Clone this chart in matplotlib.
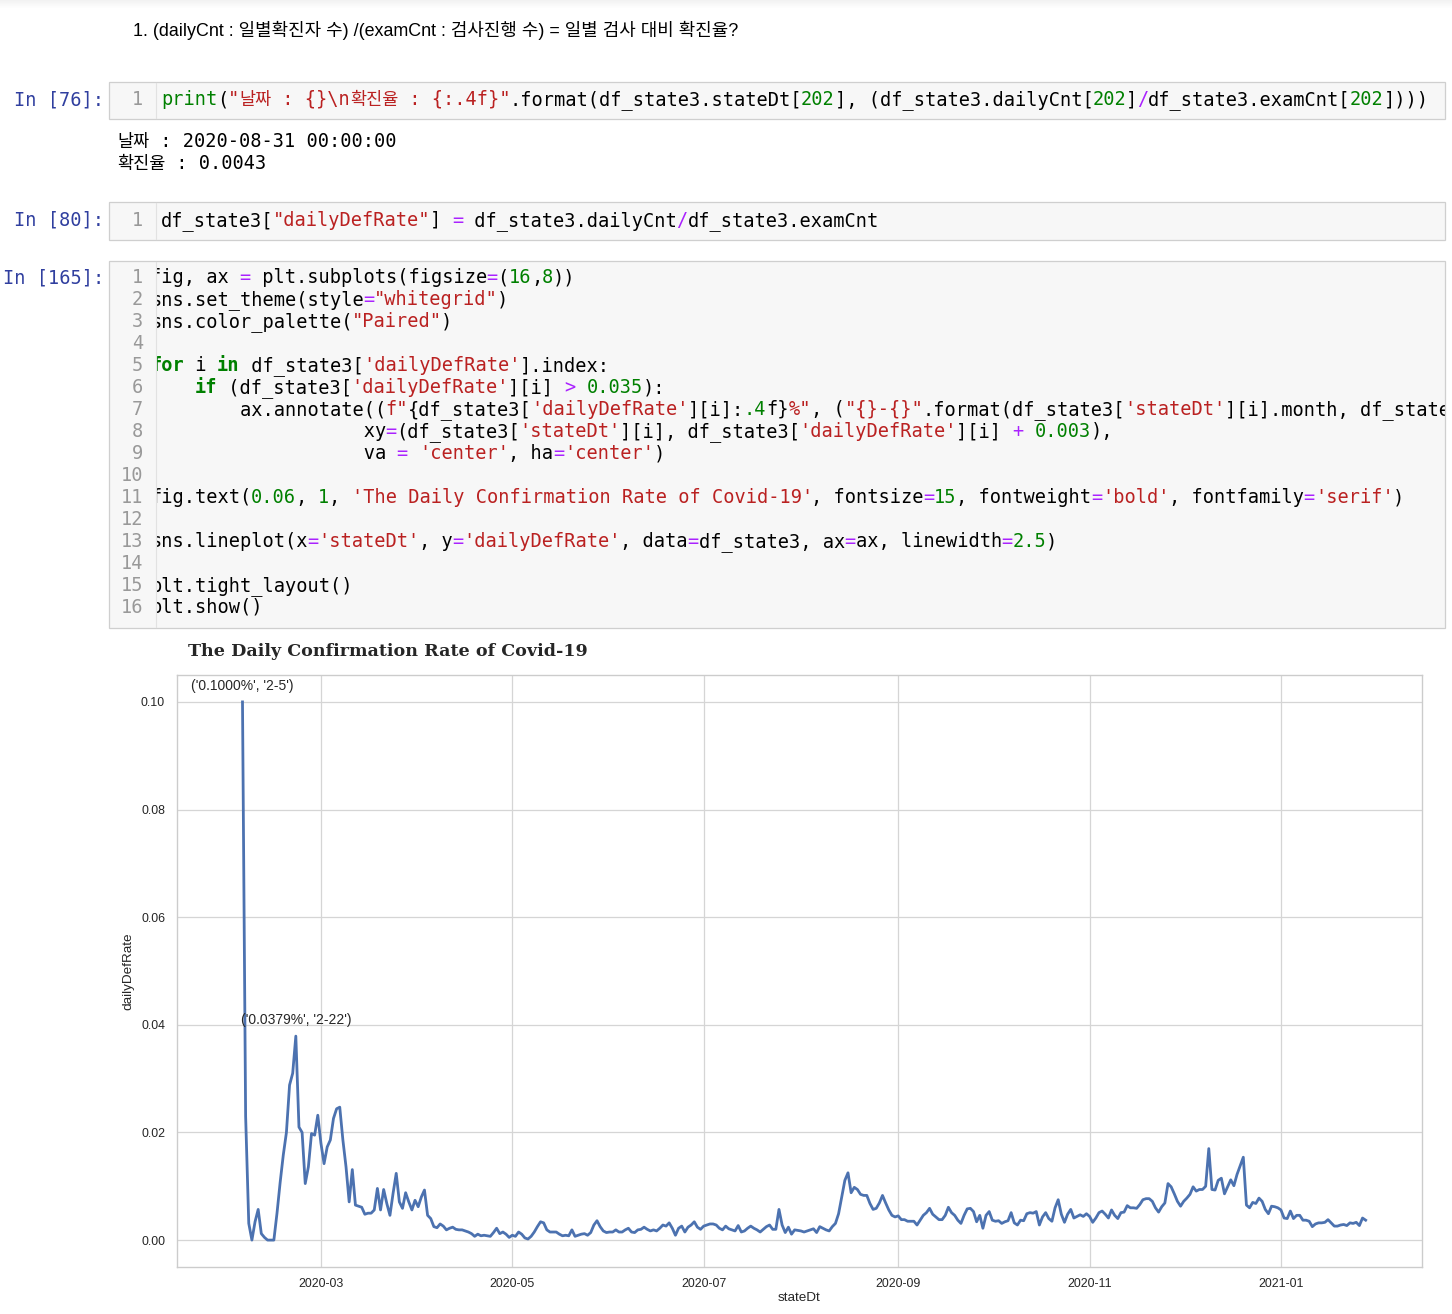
import re

import numpy as np
import pandas as pd
import matplotlib
matplotlib.use("Agg")
import matplotlib.pyplot as plt
import matplotlib.dates as mdates
from matplotlib.patches import Rectangle
from matplotlib.ticker import FormatStrFormatter

plt.rcParams["font.family"] = ["Liberation Sans", "Noto Sans CJK KR"]

# daily confirmation rate (dailyCnt / examCnt), 2020-02-05 .. 2021-01-28
feb = [0.1000, 0.0230, 0.0031, 0.0000, 0.0034, 0.0057, 0.0012, 0.0005, 0.0000, 0.0000,
       0.0000, 0.0050, 0.0107, 0.0158, 0.0200, 0.0288, 0.0310, 0.0379, 0.0210, 0.0200,
       0.0105, 0.0136, 0.0198, 0.0195, 0.0232]
mar = [0.0180, 0.0142, 0.0173, 0.0186, 0.0226, 0.0244, 0.0247, 0.0186, 0.0136, 0.0071,
       0.0131, 0.0065, 0.0063, 0.0061, 0.0048, 0.0050, 0.0050, 0.0056, 0.0096, 0.0056,
       0.0094, 0.0068, 0.0046, 0.0087, 0.0124, 0.0071, 0.0059, 0.0088, 0.0071, 0.0056,
       0.0074]
apr = [0.0062, 0.0080, 0.0093, 0.0046, 0.0040, 0.0025, 0.0023, 0.0030, 0.0026, 0.0019,
       0.0022, 0.0024, 0.0020, 0.0019, 0.0019, 0.0017, 0.0015, 0.0012, 0.0007, 0.0011,
       0.0008, 0.0009, 0.0008, 0.0007, 0.0014, 0.0022, 0.0012, 0.0015, 0.0011, 0.0005]
may = [0.0009, 0.0007, 0.0015, 0.0011, 0.0004, 0.0002, 0.0007, 0.0015, 0.0025, 0.0034,
       0.0032, 0.0019, 0.0015, 0.0015, 0.0015, 0.0011, 0.0008, 0.0009, 0.0008, 0.0019,
       0.0007, 0.0009, 0.0011, 0.0012, 0.0009, 0.0014, 0.0028, 0.0036, 0.0025, 0.0017,
       0.0014]
jun = [0.0015, 0.0015, 0.0019, 0.0015, 0.0015, 0.0019, 0.0022, 0.0015, 0.0014, 0.0019,
       0.0020, 0.0024, 0.0020, 0.0017, 0.0019, 0.0017, 0.0022, 0.0028, 0.0026, 0.0032,
       0.0022, 0.0009, 0.0022, 0.0026, 0.0015, 0.0024, 0.0028, 0.0034, 0.0024, 0.0020]
jul = [0.0026, 0.0028, 0.0030, 0.0030, 0.0028, 0.0022, 0.0019, 0.0026, 0.0021, 0.0019,
       0.0017, 0.0027, 0.0015, 0.0017, 0.0022, 0.0026, 0.0022, 0.0019, 0.0015, 0.0020,
       0.0025, 0.0028, 0.0020, 0.0020, 0.0057, 0.0028, 0.0014, 0.0024, 0.0011, 0.0019,
       0.0018]
aug = [0.0017, 0.0015, 0.0017, 0.0019, 0.0021, 0.0014, 0.0025, 0.0022, 0.0019, 0.0017,
       0.0025, 0.0031, 0.0049, 0.0080, 0.0111, 0.0125, 0.0088, 0.0098, 0.0094, 0.0085,
       0.0083, 0.0083, 0.0068, 0.0057, 0.0059, 0.0069, 0.0083, 0.0069, 0.0056, 0.0046,
       0.0043]
sep = [0.0045, 0.0038, 0.0038, 0.0035, 0.0035, 0.0035, 0.0028, 0.0037, 0.0046, 0.0051,
       0.0059, 0.0048, 0.0043, 0.0038, 0.0038, 0.0046, 0.0061, 0.0051, 0.0046, 0.0037,
       0.0031, 0.0046, 0.0058, 0.0059, 0.0053, 0.0034, 0.0046, 0.0022, 0.0046, 0.0053]
oct_ = [0.0037, 0.0035, 0.0036, 0.0031, 0.0034, 0.0036, 0.0051, 0.0032, 0.0028, 0.0037,
        0.0036, 0.0049, 0.0051, 0.0050, 0.0053, 0.0028, 0.0043, 0.0051, 0.0040, 0.0035,
        0.0060, 0.0075, 0.0048, 0.0033, 0.0048, 0.0057, 0.0041, 0.0044, 0.0047, 0.0044,
        0.0049]
nov = [0.0044, 0.0033, 0.0041, 0.0051, 0.0054, 0.0048, 0.0041, 0.0056, 0.0046, 0.0040,
       0.0051, 0.0052, 0.0064, 0.0060, 0.0060, 0.0059, 0.0066, 0.0075, 0.0077, 0.0077,
       0.0072, 0.0060, 0.0052, 0.0062, 0.0069, 0.0105, 0.0099, 0.0086, 0.0072, 0.0063]
dec = [0.0072, 0.0078, 0.0085, 0.0099, 0.0091, 0.0094, 0.0094, 0.0100, 0.0170, 0.0094,
       0.0093, 0.0111, 0.0115, 0.0086, 0.0099, 0.0112, 0.0101, 0.0122, 0.0138, 0.0154,
       0.0065, 0.0060, 0.0070, 0.0068, 0.0078, 0.0072, 0.0057, 0.0049, 0.0063, 0.0062,
       0.0060]
jan = [0.0056, 0.0041, 0.0040, 0.0054, 0.0040, 0.0046, 0.0046, 0.0037, 0.0037, 0.0035,
       0.0025, 0.0030, 0.0032, 0.0032, 0.0033, 0.0038, 0.0032, 0.0026, 0.0026, 0.0028,
       0.0029, 0.0027, 0.0032, 0.0031, 0.0033, 0.0027, 0.0041, 0.0037]

rate = feb + mar + apr + may + jun + jul + aug + sep + oct_ + nov + dec + jan
dates = pd.date_range("2020-02-05", periods=len(rate), freq="D")

heading = "1. (dailyCnt : 일별확진자 수) /(examCnt : 검사진행 수) = 일별 검사 대비 확진율?"
cell76 = ['print("날짜 : {}\\n확진율 : {:.4f}".format(df_state3.stateDt[202], '
          '(df_state3.dailyCnt[202]/df_state3.examCnt[202])))']
out76 = ["날짜 : 2020-08-31 00:00:00", "확진율 : 0.0043"]
cell80 = ['df_state3["dailyDefRate"] = df_state3.dailyCnt/df_state3.examCnt']
cell165 = [
    "fig, ax = plt.subplots(figsize=(16,8))",
    'sns.set_theme(style="whitegrid")',
    'sns.color_palette("Paired")',
    "",
    "for i in df_state3['dailyDefRate'].index:",
    "    if (df_state3['dailyDefRate'][i] > 0.035):",
    None,  # line 7, coloured by hand below
    "                   xy=(df_state3['stateDt'][i], df_state3['dailyDefRate'][i] + 0.003),",
    "                   va = 'center', ha='center')",
    "",
    "fig.text(0.06, 1, 'The Daily Confirmation Rate of Covid-19', fontsize=15, "
    "fontweight='bold', fontfamily='serif')",
    "",
    "sns.lineplot(x='stateDt', y='dailyDefRate', data=df_state3, ax=ax, linewidth=2.5)",
    "",
    "plt.tight_layout()",
    "plt.show()",
]
# the visible part of line 7, the editor cuts it at the right edge
line7 = [("        ax.annotate((", "k"), ('f"', "s"), ("{df_state3[", "k"), ("'dailyDefRate'", "s"),
         ("][i]:", "k"), (".4", "n"), ("f}", "k"), ('%"', "s"), (", (", "k"), ('"{}-{}"', "s"),
         (".format(df_state3[", "k"), ("'stateDt'", "s"), ("][i].month, df_state", "k")]

COLORS = {"k": "#000000", "s": "#BA2121", "n": "#008000", "kw": "#008000",
          "b": "#008000", "o": "#AA22FF", "p": "#303F9F"}
TOKEN_RE = re.compile(r"""('[^']*'|"[^"]*")|(\b\d+\.?\d*\b)|(\b(?:for|in|if)\b)|(\bprint\b)|([=+/>])""")

W, H = 1452, 1314
CW, KW = 11.2, 16.0
MONO_FS = CW / (0.60205 * 100 / 72)
KO_FS = 12.6

fig = plt.figure(figsize=(W / 100, H / 100), dpi=100)
bg = fig.add_axes([0, 0, 1, 1])
bg.set_xlim(0, W)
bg.set_ylim(H, 0)
bg.axis("off")


def tokens(line):
    out, pos = [], 0
    for m in TOKEN_RE.finditer(line):
        if m.start() > pos:
            out.append((line[pos:m.start()], "k"))
        out.append((m.group(0), ["s", "n", "kw", "b", "o"][m.lastindex - 1]))
        pos = m.end()
    if pos < len(line):
        out.append((line[pos:], "k"))
    return out


def put(x, y, text, kind):
    # ascii and hangul runs drawn apart so the monospace grid is kept
    for run in re.findall(r"[\x00-\x7f]+|[^\x00-\x7f]+", text):
        hangul = ord(run[0]) > 127
        bg.text(x, y + 5, run, va="baseline", ha="left", color=COLORS[kind],
                family="Noto Sans CJK KR" if hangul else "DejaVu Sans Mono",
                fontsize=KO_FS if hangul else MONO_FS,
                fontweight="bold" if kind == "kw" else "normal", zorder=3)
        x += len(run) * (KW if hangul else CW)
    return x


# faint shadow along the top of the page
for k in range(8):
    bg.add_patch(Rectangle((0, k), W, 1, facecolor="#000000", alpha=0.05 * (1 - k / 8), lw=0))

bg.text(133, 30, heading, va="center", ha="left", fontsize=12.9, color="#000000",
        family=["Liberation Sans", "Noto Sans CJK KR"])

boxes = [(82, 119, "In [76]:", cell76, 100, 161),
         (202, 240, "In [80]:", cell80, 221, 161),
         (261, 628, "In [165]:", cell165, 278, 150)]
for y0, y1, label, lines, y_first, x0 in boxes:
    bg.add_patch(Rectangle((108.5, y0), 1336, y1 - y0, facecolor="#f7f7f7",
                           edgecolor="none", zorder=1))
    put(104 - len(label) * CW, y_first, label, "p")
    for n, line in enumerate(lines):
        y = y_first + n * 22
        x = x0
        for text, kind in (line7 if line is None else tokens(line)):
            x = put(x, y, text, kind)
    # gutter and right margin drawn over the code, as the editor scrolls/clips it
    bg.add_patch(Rectangle((109, y0 + 0.5), 46.5, y1 - y0 - 1, facecolor="#f7f7f7",
                           edgecolor="none", zorder=4))
    bg.add_patch(Rectangle((1444.5, y0 - 2), W - 1444.5, y1 - y0 + 4, facecolor="white",
                           edgecolor="none", zorder=4))
    bg.add_patch(Rectangle((108.5, y0), 1336, y1 - y0, facecolor="none",
                           edgecolor="#cfcfcf", lw=0.9, zorder=5))
    bg.plot([155.5, 155.5], [y0 + 1, y1 - 1], color="#e2e2e2", lw=0.8, zorder=5)
    for n in range(len(lines)):
        bg.text(143, y_first + n * 22 + 5, str(n + 1), va="baseline", ha="right",
                color="#999999", family="DejaVu Sans Mono", fontsize=MONO_FS, zorder=6)

for n, line in enumerate(out76):
    put(117, 142 + n * 22, line, "k")

# chart title (fig.text in the notebook)
bg.text(188, 652, "The Daily Confirmation Rate of Covid-19", va="center", ha="left",
        fontsize=12.6, fontweight="bold", family="DejaVu Serif", color="#262626")

ax = fig.add_axes([177 / W, (H - 1267) / H, (1422 - 177) / W, (1267 - 675) / H])
ax.plot(dates, rate, color="#4c72b0", lw=2.0, solid_joinstyle="round")
ax.set_xlim(pd.Timestamp("2020-01-15 03:00"), pd.Timestamp("2021-02-14 23:00"))
ax.set_ylim(-0.005, 0.105)
ax.set_yticks(np.arange(0, 0.101, 0.02))
ax.yaxis.set_major_formatter(FormatStrFormatter("%.2f"))
ax.xaxis.set_major_locator(mdates.MonthLocator(bymonth=[1, 3, 5, 7, 9, 11]))
ax.xaxis.set_major_formatter(mdates.DateFormatter("%Y-%m"))
ax.grid(color="#d5d5d5", lw=0.9)
ax.set_axisbelow(True)
for sp in ax.spines.values():
    sp.set_color("#cccccc")
    sp.set_linewidth(1.0)
ax.tick_params(axis="both", length=0, labelsize=8.9, labelcolor="#262626")
ax.tick_params(axis="y", pad=8.6)
ax.tick_params(axis="x", pad=8.0)
ax.set_ylabel("dailyDefRate", fontsize=9.7, color="#262626")
ax.set_xlabel("stateDt", fontsize=9.7, color="#262626")
ax.yaxis.set_label_coords(-0.0345, 0.5)
ax.xaxis.set_label_coords(0.5, -0.042)

for d, v in zip(dates, rate):
    if v > 0.035:
        label = str((f"{v:.4f}%", f"{d.month}-{d.day}"))
        ax.annotate(label, xy=(d, v + 0.003), va="center", ha="center",
                    fontsize=10, color="#262626")

fig.savefig("out.png", dpi=100)
